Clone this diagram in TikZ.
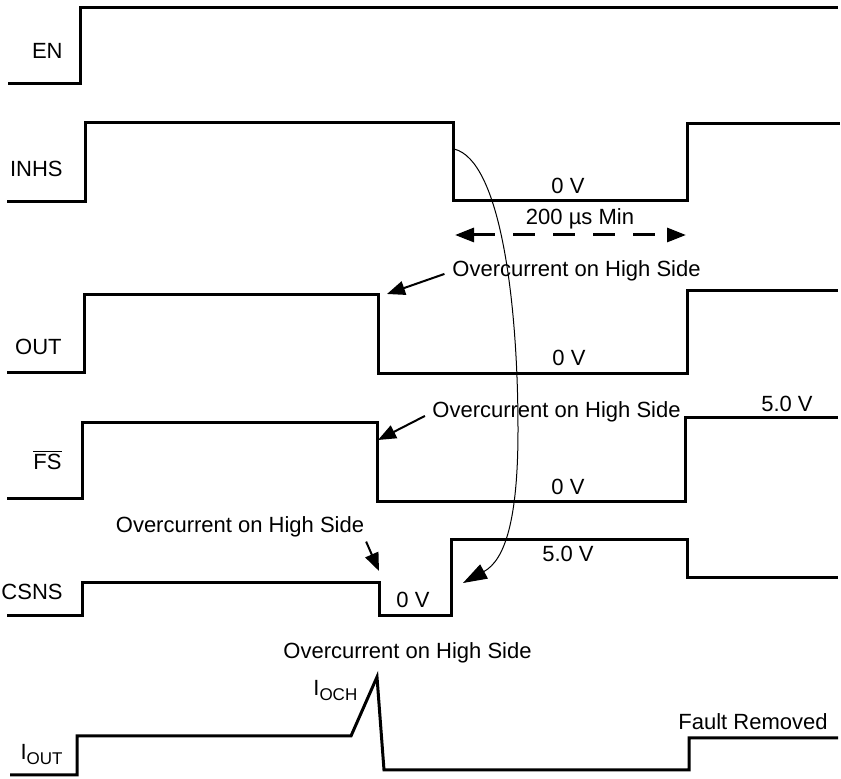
\documentclass[tikz,border=0pt]{standalone}
\usepackage{fontspec}
\setmainfont{Liberation Sans}
\usetikzlibrary{arrows.meta}
\newcommand{\lowsub}[1]{\raisebox{-2.5pt}{\fontsize{8.5}{10}\selectfont #1}}
\begin{document}
\begin{tikzpicture}[x=0.5pt,y=-0.5pt,
        wave/.style={line width=1.5pt,line join=miter},
        txt/.style={inner sep=0pt,font=\fontsize{11}{13}\selectfont},
        callout/.style={line width=1pt,-{Triangle[length=9pt,width=7pt]}},
        span/.style={line width=1.5pt,dash pattern=on 11pt off 9pt,{Triangle[length=9.5pt,width=7pt]}-{Triangle[length=9.5pt,width=7pt]}}]
        \useasboundingbox (0,0) rectangle (841,779);
        % signal names
        \node[txt,anchor=base east] (en) at (63,59) {EN};
        \node[txt,anchor=base east] (inhs) at (63,177) {INHS};
        \node[txt,anchor=base east] (out) at (62,355) {OUT};
        \node[txt,anchor=base east] (fs) at (62,470) {$\overline{\mbox{FS}}$};
        \node[txt,anchor=base east] (csns) at (63,600) {CSNS};
        \node[txt,anchor=base east] (iout) at (63,760) {I\lowsub{OUT}};
        % waveforms
        \draw[wave] (8,84) -- (80,84) -- (80,8) -- (838,8);
        \draw[wave] (7,202) -- (85,202) -- (85,123) -- (453,123) -- (453,201) -- (687,201) -- (687,124) -- (840,124);
        \draw[wave] (7,373) -- (84,373) -- (84,295) -- (378,295) -- (378,374) -- (687,374) -- (687,291) -- (838,291);
        \draw[wave] (7,499) -- (82,499) -- (82,423) -- (377,423) -- (377,502) -- (685,502) -- (685,418) -- (838,418);
        \draw[wave] (7,616) -- (82,616) -- (82,583) -- (379,583) -- (379,616) -- (451,616) -- (451,540) -- (687,540) -- (687,578) -- (838,578);
        \draw[wave] (10,775) -- (77,775) -- (77,736) -- (351,736) -- (377,677) -- (384,770) -- (689,770) -- (689,738) -- (838,738);
        % levels
        \node[txt,anchor=base] (inhs0) at (568,194) {0 V};
        \node[txt,anchor=base] (out0) at (569,366) {0 V};
        \node[txt,anchor=base] (fs0) at (568,495) {0 V};
        \node[txt,anchor=base] (fs5) at (787,412) {5.0 V};
        \node[txt,anchor=base] (csns0) at (413,608) {0 V};
        \node[txt,anchor=base] (csns5) at (568,562) {5.0 V};
        \node[txt,anchor=base west] (ioch) at (313,696) {I\lowsub{OCH}};
        \node[txt,anchor=base west] (fault) at (678,730) {Fault Removed};
        % 200 us window
        \node[txt,anchor=base] (tmin) at (580,225) {200 µs Min};
        \coordinate (dimL) at (455,235);
        \coordinate (dimR) at (686,235);
        \draw[span] (dimL) -- (dimR);
        % overcurrent callouts
        \node[txt,anchor=base west] (ocOut) at (452,277) {Overcurrent on High Side};
        \node[txt,anchor=base west] (ocFs) at (432,418) {Overcurrent on High Side};
        \node[txt,anchor=base] (ocCs) at (240,533) {Overcurrent on High Side};
        \node[txt,anchor=base west] (ocI) at (283,659) {Overcurrent on High Side};
        \coordinate (outA) at (387,294);
        \coordinate (fsA) at (378,440);
        \coordinate (csA) at (379,571);
        \draw[callout,shorten <=4pt] (ocOut.west) -- (outA);
        \draw[callout,shorten <=4pt] (ocFs.west) -- (fsA);
        \draw[callout,shorten <=2pt] (ocCs.south east) -- (csA);
        % INHS fall to CSNS rise
        \coordinate (inhsFall) at (454,149);
        \coordinate (csnsRise) at (463,583);
        \draw[line width=0.5pt,-{Triangle[length=12pt,width=8pt]}] (inhsFall) .. controls (500,160) and (518,300) .. (518,430) .. controls (518,520) and (505,560) .. (csnsRise);
\end{tikzpicture}
\end{document}
